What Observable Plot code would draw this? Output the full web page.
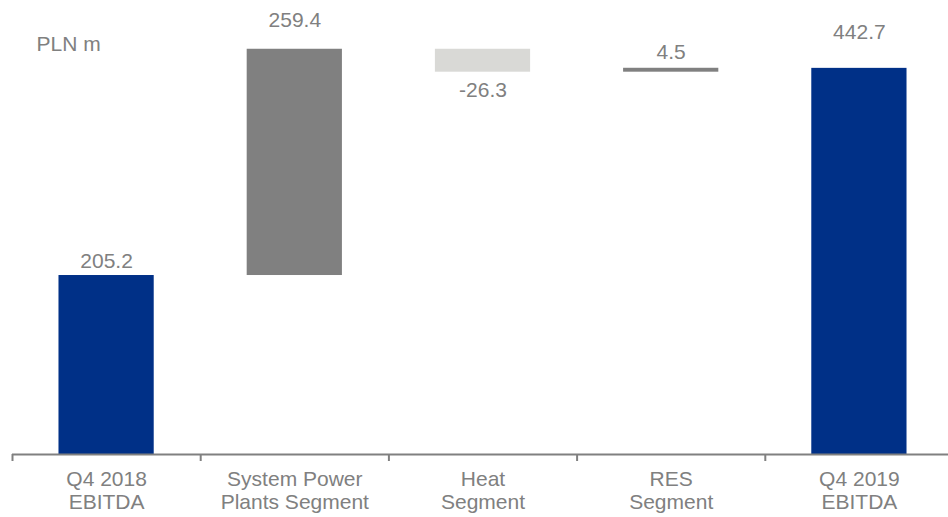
<!DOCTYPE html>
<html>
<head>
<meta charset="utf-8">
<script src="https://cdn.jsdelivr.net/npm/d3@7"></script>
<script src="https://cdn.jsdelivr.net/npm/@observablehq/plot@0.6"></script>
<style>
  html, body { margin: 0; padding: 0; background: #fff; overflow: hidden; }
  #chart svg { display: block; max-width: none !important; }
</style>
</head>
<body>
<div id="chart"></div>
<script>
const categories = ["Q4 2018\nEBITDA", "System Power\nPlants Segment", "Heat\nSegment", "RES\nSegment", "Q4 2019\nEBITDA"];
const values = [205.2, 259.4, -26.3, 4.5, 442.7];
const kinds = ["total", "delta", "delta", "delta", "total"];
const valueLabels = ["205.2", "259.4", "-26.3", "4.5", "442.7"];
const unitLabel = "PLN m";

// styling
const labelDy = [-14, -29, 18, -16, -36];
const colorOf = (k, v) => k === "total" ? "#003087" : (v < 0 ? "#d9d9d6" : "#808080");
const gray = "#808080";
const font = "'Liberation Sans', Arial, sans-serif";

// build waterfall table
let run = 0;
const data = categories.map((c, i) => {
  let y1, y2;
  if (kinds[i] === "total") { y1 = 0; y2 = values[i]; run = values[i]; }
  else { y1 = run; y2 = run + values[i]; run = y2; }
  return {i, c, y1, y2, v: values[i], kind: kinds[i], label: valueLabels[i],
          ly: values[i] < 0 ? Math.min(y1, y2) : Math.max(y1, y2)};
});

const chart = Plot.plot({
  width: 953,
  height: 517,
  marginLeft: 12,
  marginRight: 0,
  marginTop: 0,
  marginBottom: 63,
  style: {fontFamily: font, fontSize: "21px", color: gray, background: "#fff", maxWidth: "none"},
  x: {type: "linear", domain: [0, categories.length], axis: null},
  y: {domain: [0, 520.5], axis: null},
  marks: [
    Plot.rectY(data, {
      x1: d => d.i + 0.247, x2: d => d.i + 0.753,
      y1: "y1", y2: "y2",
      fill: d => colorOf(d.kind, d.v)
    }),
    Plot.ruleY([0], {stroke: gray, strokeWidth: 2}),
    Plot.axisX(d3.range(categories.length + 1), {
      tickSize: 7, tickFormat: () => "", stroke: gray, strokeWidth: 2
    }),
    Plot.axisX(d3.range(categories.length).map(i => i + 0.5), {
      tickSize: 0, tickPadding: 15,
      tickFormat: v => categories[Math.floor(v)],
      fill: gray, fontSize: 21, lineHeight: 1.1
    }),
    ...data.map((d, k) => Plot.text([d], {
      x: d => d.i + 0.5, y: "ly", text: "label",
      dy: labelDy[k],
      lineAnchor: "middle", fill: gray, fontSize: 21
    })),
    Plot.text([unitLabel], {
      frameAnchor: "top-left", dx: 24, dy: 44,
      textAnchor: "start", lineAnchor: "middle", fill: gray, fontSize: 21
    })
  ]
});

document.getElementById("chart").appendChild(chart);
</script>
</body>
</html>
